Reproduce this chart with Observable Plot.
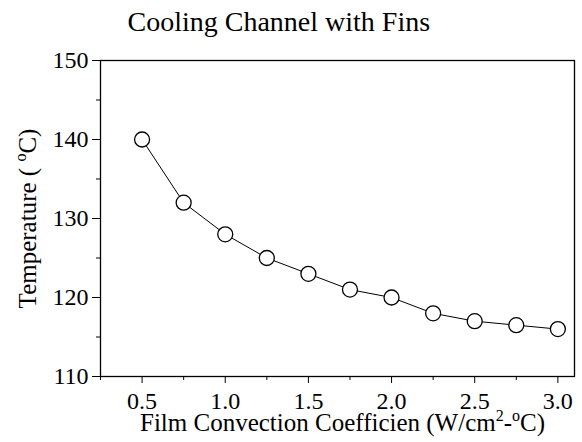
<!DOCTYPE html>
<html><head><meta charset="utf-8">
<script src="https://cdn.jsdelivr.net/npm/d3@7"></script>
<script src="https://cdn.jsdelivr.net/npm/@observablehq/plot@0.6"></script>
<style>body{margin:0;background:#fff} svg text{font-family:"Liberation Serif","Times New Roman",serif !important; fill:#000}</style>
</head><body><div id="chart"></div>
<script>
const coeff = [0.5, 0.75, 1.0, 1.25, 1.5, 1.75, 2.0, 2.25, 2.5, 2.75, 3.0];
const temperature = [140, 132, 128, 125, 123, 121, 120, 118, 117, 116.5, 116];
const xMajorTicks = [0.5, 1.0, 1.5, 2.0, 2.5, 3.0];
const xMinorTicks = [0.25, 0.75, 1.25, 1.75, 2.25, 2.75];
const yMajorTicks = [110, 120, 130, 140, 150];
const yMinorTicks = [115, 125, 135, 145];
const title = "Cooling Channel with Fins";
const xLabel = "Film Convection Coefficien (W/cm2-oC)";
const yLabel = "Temperature ( oC)";

const data = coeff.map((x, i) => ({x, y: temperature[i]}));
const FF = '"Liberation Serif", "Times New Roman", serif';

const chart = Plot.plot({
  width: 582, height: 442,
  marginTop: 60, marginLeft: 100, marginRight: 8, marginBottom: 66,
  style: {fontFamily: FF, fontSize: "24px", background: "white", color: "black"},
  x: {domain: [0.25, 3.1], label: null},
  y: {domain: [110, 150], label: null},
  marks: [
    Plot.axisX(xMinorTicks, {tickSize: 4, tickFormat: () => "", label: null, stroke: "black"}),
    Plot.axisX(xMajorTicks, {tickSize: 7, tickPadding: 8, tickFormat: d => d.toFixed(1), fontSize: 24, fontFamily: FF, fontVariant: "normal", fill: "black", label: null, stroke: "black"}),
    Plot.axisY(yMinorTicks, {tickSize: 4, tickFormat: () => "", label: null, stroke: "black"}),
    Plot.axisY(yMajorTicks, {tickSize: 8, tickPadding: 4, fontSize: 24, fontFamily: FF, fontVariant: "normal", fill: "black", label: null, stroke: "black"}),
    Plot.frame({stroke: "black", strokeWidth: 1.3}),
    Plot.line(data, {x: "x", y: "y", stroke: "black", strokeWidth: 1}),
    Plot.dot(data, {x: "x", y: "y", r: 7.5, fill: "white", stroke: "black", strokeWidth: 1.3}),
    Plot.text([title], {text: d => d, frameAnchor: "top-left", dx: 27, dy: -30, textAnchor: "start", lineAnchor: "bottom", fontSize: 28, fontFamily: FF, fill: "black"}),
    Plot.text([xLabel], {text: d => d, frameAnchor: "bottom", dx: 5, dy: 54, textAnchor: "middle", lineAnchor: "bottom", fontSize: 25, fontFamily: FF, fill: "black"}),
    Plot.text([yLabel], {text: d => d, frameAnchor: "left", dx: -73, rotate: -90, textAnchor: "middle", lineAnchor: "middle", fontSize: 25, fontFamily: FF, fill: "black"})
  ]
});

d3.select(chart).selectAll("text").each(function () {
  const t = this.textContent;
  if (t === xLabel) {
    const s = d3.select(this); s.text(null);
    s.append("tspan").text("Film Convection Coefficien (W/cm");
    s.append("tspan").text("2").attr("font-size", "16px").attr("dy", "-10");
    s.append("tspan").text("-").attr("dy", "10");
    s.append("tspan").text("o").attr("font-size", "16px").attr("dy", "-10");
    s.append("tspan").text("C)").attr("dy", "10");
  } else if (t === yLabel) {
    const s = d3.select(this); s.text(null);
    s.append("tspan").text("Temperature ( ");
    s.append("tspan").text("o").attr("font-size", "16px").attr("dy", "-10");
    s.append("tspan").text("C)").attr("dy", "10");
  }
});
document.getElementById("chart").appendChild(chart);
</script>
</body></html>
